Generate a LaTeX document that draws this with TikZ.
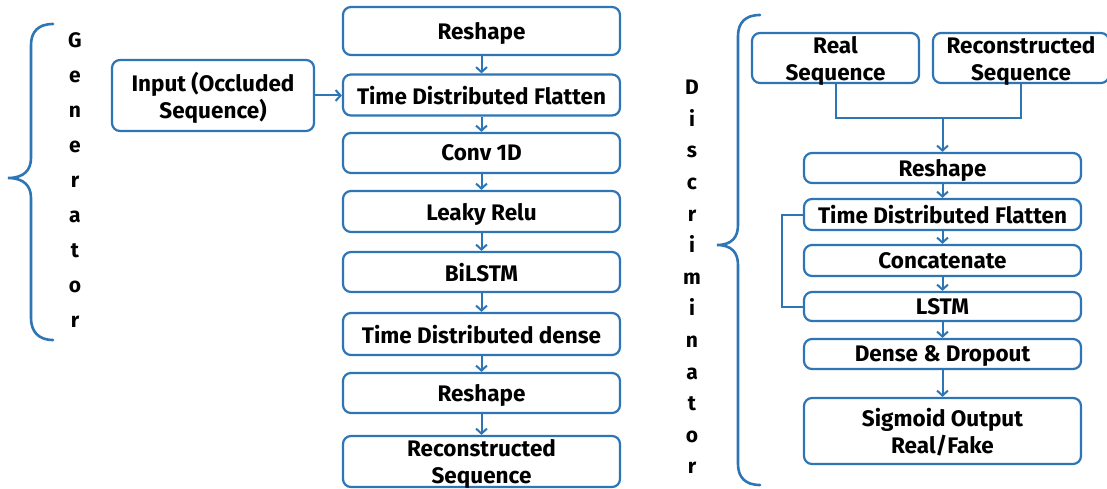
\documentclass[tikz,border=0pt]{standalone}
\usepackage{fontspec}
\setmainfont{Fira Sans}
\usetikzlibrary{arrows.meta}
\definecolor{netblue}{RGB}{46,117,182}
\tikzset{
  layer/.style={draw=netblue, line width=2.2pt, rounded corners=8pt, fill=white,
    align=center, inner sep=0pt, text depth=0pt, font=\fontsize{22.5}{27}\selectfont\bfseries},
  arr/.style={draw=netblue, line width=2pt, -{Straight Barb[length=5pt,width=11pt,line width=2pt]}},
  link/.style={draw=netblue, line width=2pt},
  brace/.style={draw=netblue, line width=2.6pt, line cap=round},
  vlabel/.style={align=center, inner sep=0pt, font=\fontsize{21}{#1}\selectfont\bfseries},
}
\begin{document}
\begin{tikzpicture}[x=1pt,y=-1pt]
\useasboundingbox (0,0) rectangle (1107,489);

% ---------- Generator ----------
\node[layer, minimum width=277pt, minimum height=48pt] (g1) at (481.5,31) {Reshape};
\node[layer, minimum width=277pt, minimum height=41pt] (g2) at (481.5,95) {Time Distributed Flatten};
\node[layer, minimum width=277pt, minimum height=40pt] (g3) at (481.5,153) {Conv 1D};
\node[layer, minimum width=277pt, minimum height=41pt] (g4) at (481.5,211.5) {Leaky Relu};
\node[layer, minimum width=277pt, minimum height=40pt] (g5) at (481.5,272) {BiLSTM};
\node[layer, minimum width=277pt, minimum height=42pt] (g6) at (481.5,334) {Time Distributed dense};
\node[layer, minimum width=277pt, minimum height=40pt] (g7) at (481.5,393) {Reshape};
\node[layer, minimum width=277pt, minimum height=51pt] (g8) at (481.5,461.5) {Reconstructed\\Sequence};
\node[layer, minimum width=202pt, minimum height=71pt] (gin) at (213,95.5) {Input (Occluded\\Sequence)};

\draw[arr] (gin.east) -- (gin.east -| g2.west);
\foreach \a/\b in {g1/g2,g2/g3,g3/g4,g4/g5,g5/g6,g6/g7,g7/g8}
  \draw[arr] (\a.south) -- (\b.north);

% generator brace and label
\draw[brace] (53,24) .. controls (38,24) and (31,32) .. (31,45)
  -- (31,158) .. controls (31,170) and (24,178) .. (8,178)
  .. controls (24,178) and (31,186) .. (31,198)
  -- (31,318) .. controls (31,331) and (38,340) .. (53,340);
\node[vlabel=35] (glabel) at (75,180) {G\\e\\n\\e\\r\\a\\t\\o\\r};

% ---------- Discriminator ----------
\node[layer, minimum width=167pt, minimum height=50pt] (dreal) at (835.5,58) {Real\\Sequence};
\node[layer, minimum width=176pt, minimum height=50pt] (drec) at (1021,58) {Reconstructed\\Sequence};
\node[layer, minimum width=277pt, minimum height=30pt] (d1) at (942.5,168) {Reshape};
\node[layer, minimum width=277pt, minimum height=31pt] (d2) at (942.5,214.5) {Time Distributed Flatten};
\node[layer, minimum width=277pt, minimum height=31pt] (d3) at (942.5,260.5) {Concatenate};
\node[layer, minimum width=277pt, minimum height=29pt] (d4) at (942.5,306.5) {LSTM};
\node[layer, minimum width=277pt, minimum height=30pt] (d5) at (942.5,354) {Dense \& Dropout};
\node[layer, minimum width=277pt, minimum height=66pt] (d6) at (942.5,431) {Sigmoid Output\\Real/Fake};

\coordinate (dj) at (942.5,118);
\draw[link] (dreal.south) |- (dj) -| (drec.south);
\draw[arr] (dj) -- (d1.north);
\foreach \a/\b in {d1/d2,d2/d3,d3/d4,d4/d5,d5/d6}
  \draw[arr] (\a.south) -- (\b.north);
\draw[link] (d2.west) -- ++(-21,0) |- (d4.west);

% discriminator brace and label
\draw[brace] (760,15) .. controls (745,15) and (738,23) .. (738,36)
  -- (738,225) .. controls (738,237) and (732,245) .. (717,245)
  .. controls (732,245) and (738,253) .. (738,265)
  -- (738,464) .. controls (738,477) and (745,485) .. (760,485);
\node[vlabel=31.6] (dlabel) at (692,277) {D\\i\\s\\c\\r\\i\\m\\i\\n\\a\\t\\o\\r};
\end{tikzpicture}
\end{document}
